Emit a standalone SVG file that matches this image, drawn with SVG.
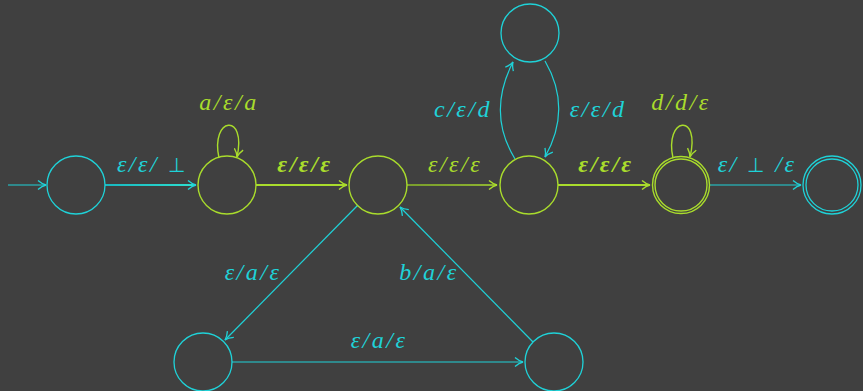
<svg xmlns="http://www.w3.org/2000/svg" width="863" height="391" viewBox="0 0 863 391">
<defs>
<marker id="ac" viewBox="0 0 10 10" refX="9" refY="5" markerWidth="10" markerHeight="10" markerUnits="userSpaceOnUse" orient="auto"><path d="M1,0.5 Q5,4 9,5 Q5,6 1,9.5" fill="none" stroke="#1fd2d8" stroke-width="1.3"/></marker>
<marker id="al" viewBox="0 0 10 10" refX="9" refY="5" markerWidth="10" markerHeight="10" markerUnits="userSpaceOnUse" orient="auto"><path d="M1,0.5 Q5,4 9,5 Q5,6 1,9.5" fill="none" stroke="#a9dc2c" stroke-width="1.4"/></marker>
<linearGradient id="g1" x1="105" y1="0" x2="197" y2="0" gradientUnits="userSpaceOnUse"><stop offset="0" stop-color="#18b8c0"/><stop offset="1" stop-color="#2ee0d0"/></linearGradient>
<linearGradient id="g2" x1="407" y1="0" x2="497" y2="0" gradientUnits="userSpaceOnUse"><stop offset="0" stop-color="#8cbc26"/><stop offset="1" stop-color="#aadc2c"/></linearGradient>
</defs>
<style>
.c{fill:none;stroke:#1fd2d8;stroke-width:1.3}
.l{fill:none;stroke:#a9dc2c;stroke-width:1.4}
.ec{fill:none;stroke:#1fd2d8;stroke-width:1.2;marker-end:url(#ac)}
.el{fill:none;stroke:#a9dc2c;stroke-width:1.4;marker-end:url(#al)}
.eb{fill:none;stroke:#a9dc2c;stroke-width:2;marker-end:url(#al)}
text{font-family:"Liberation Serif","DejaVu Serif",serif;font-style:italic;font-size:24px;letter-spacing:2.5px;text-anchor:middle}
.tc{fill:#1fd2d8}
.tl{fill:#a9dc2c}
.b{font-weight:bold}
.bot{font-family:"DejaVu Sans",sans-serif;font-style:normal;font-weight:200;font-size:20px}
</style>
<rect width="863" height="391" fill="#404040"/>
<g id="connectors">
<path class="ec" d="M8,185 H46"/>
<path d="M105,185 H196" fill="none" stroke="url(#g1)" stroke-width="1.8" marker-end="url(#ac)"/>
<path class="el" d="M219,158 C210,117 247,112 237,157"/>
<path class="eb" d="M256,185 H347"/>
<path d="M407,185 H497" fill="none" stroke="url(#g2)" stroke-width="1.4" marker-end="url(#al)"/>
<path class="ec" d="M515,159 C496,128 496,95 513,62"/>
<path class="ec" d="M545,61 C563,92 563,125 545,157"/>
<path class="eb" d="M558,185 H650"/>
<path class="el" d="M673,158 C664,117 701,112 690,157"/>
<path class="ec" d="M710,185 H801"/>
<path class="ec" d="M358,205 L225,340"/>
<path class="ec" d="M533,342 L400,207"/>
<path class="ec" d="M232,362 H523"/>
</g>
<g id="labels">
<text class="tc" x="152" y="172">ε/ε/ <tspan class="bot">⊥</tspan></text>
<text class="tl" x="229" y="110">a/ε/a</text>
<text class="tl b" x="305" y="172">ε/ε/ε</text>
<text class="tl" x="455" y="172">ε/ε/ε</text>
<text class="tc" x="463" y="117">c/ε/d</text>
<text class="tc" x="598" y="117">ε/ε/d</text>
<text class="tl b" x="606" y="172">ε/ε/ε</text>
<text class="tl" x="681" y="110">d/d/ε</text>
<text class="tc" x="757" y="172">ε/ <tspan class="bot">⊥</tspan> /ε</text>
<text class="tc" x="253" y="280">ε/a/ε</text>
<text class="tc" x="429" y="280">b/a/ε</text>
<text class="tc" x="379" y="348">ε/a/ε</text>
</g>
<g id="n0"><circle class="c" cx="76" cy="185" r="29"/></g>
<g id="n1"><circle class="l" cx="227" cy="185" r="29"/></g>
<g id="n2"><circle class="l" cx="378" cy="185" r="29"/></g>
<g id="n3"><circle class="l" cx="529" cy="185" r="29"/></g>
<g id="n4"><circle class="c" cx="530" cy="33" r="29"/></g>
<g id="n5"><circle class="l" cx="681" cy="185" r="28.5" stroke-width="2.2"/><circle class="l" cx="681" cy="185" r="26" stroke-width="1.4"/></g>
<g id="n6"><circle class="c" cx="832" cy="185" r="29"/><circle class="c" cx="832" cy="185" r="26"/></g>
<g id="n7"><circle class="c" cx="203" cy="362" r="29"/></g>
<g id="n8"><circle class="c" cx="554" cy="362" r="29"/></g>
</svg>
